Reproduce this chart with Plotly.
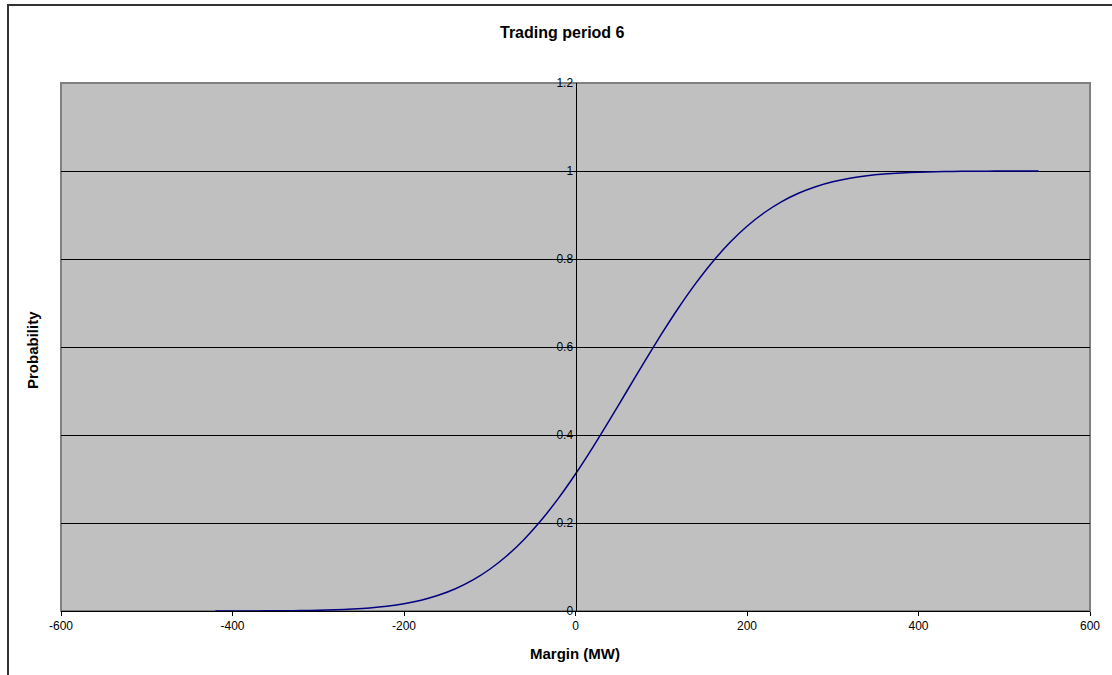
import plotly.graph_objects as go

# Data
margin_mw = [-420, -400, -380, -360, -340, -320, -300, -280, -260, -240, -220, -200,
             -180, -160, -140, -120, -100, -80, -60, -40, -20, 0, 20, 40, 60, 80,
             100, 120, 140, 160, 180, 200, 220, 240, 260, 280, 300, 320, 340, 360,
             380, 400, 420, 440, 460, 480, 500, 520, 540]
probability = [0.0000, 0.0001, 0.0002, 0.0003, 0.0005, 0.0009, 0.0016, 0.0027, 0.0044,
               0.0070, 0.0109, 0.0165, 0.0246, 0.0357, 0.0506, 0.0701, 0.0949, 0.1255,
               0.1626, 0.2062, 0.2560, 0.3114, 0.3715, 0.4349, 0.5000, 0.5651, 0.6285,
               0.6886, 0.7440, 0.7938, 0.8374, 0.8745, 0.9051, 0.9299, 0.9494, 0.9643,
               0.9754, 0.9835, 0.9891, 0.9930, 0.9956, 0.9973, 0.9984, 0.9991, 0.9995,
               0.9997, 0.9998, 0.9999, 1.0000]

x_ticks = [-600, -400, -200, 0, 200, 400, 600]
x_tick_labels = ["-600", "-400", "-200", "0", "200", "400", "600"]
y_ticks = [0, 0.2, 0.4, 0.6, 0.8, 1, 1.2]
y_tick_labels = ["0", "0.2", "0.4", "0.6", "0.8", "1", "1.2"]

title_text = "Trading period 6"
x_title = "Margin (MW)"
y_title = "Probability"

FONT = "Liberation Sans, Arial, sans-serif"

fig = go.Figure()
fig.add_trace(go.Scatter(
    x=margin_mw, y=probability, mode="lines",
    line=dict(color="#000080", width=1.5, shape="spline", smoothing=0.6),
    showlegend=False, hoverinfo="x+y",
))

W, H = 1112, 675
L, R, T, B = 61, 1090, 83, 611

fig.update_layout(
    width=W, height=H,
    margin=dict(l=L, r=W - R, t=T, b=H - B, pad=0),
    paper_bgcolor="white",
    plot_bgcolor="#C0C0C0",
    font=dict(family=FONT, size=12, color="black"),
    showlegend=False,
    xaxis=dict(
        range=[-600, 600], tickvals=x_ticks, ticktext=x_tick_labels,
        showgrid=False, zeroline=False,
        showline=True, linecolor="black", linewidth=1,
        ticks="outside", ticklen=4, tickcolor="black", tickwidth=1,
        tickfont=dict(family=FONT, size=12, color="black"),
        fixedrange=True,
    ),
    yaxis=dict(
        range=[0, 1.2], tickvals=y_ticks, ticktext=y_tick_labels,
        anchor="free", position=0.5, side="left",
        showgrid=True, gridcolor="black", gridwidth=1,
        zeroline=False,
        showline=True, linecolor="black", linewidth=1,
        ticks="inside", ticklen=4, tickcolor="black", tickwidth=1,
        tickfont=dict(family=FONT, size=12, color="black"),
        fixedrange=True,
    ),
    shapes=[
        # plot area border (gray)
        dict(type="rect", xref="paper", yref="paper", x0=0, x1=1, y0=0, y1=1,
             line=dict(color="#808080", width=2), layer="below"),
        # outer chart frame
        dict(type="rect", xref="paper", yref="paper",
             x0=(8 - L) / (R - L), x1=(1125 - L) / (R - L),
             y0=(B - 700) / (B - T), y1=(B - 5) / (B - T),
             line=dict(color="#333333", width=2), fillcolor="rgba(0,0,0,0)"),
    ],
    annotations=[
        dict(text="<b>" + title_text + "</b>", xref="paper", yref="paper",
             x=(562 - L) / (R - L), y=(B - 33) / (B - T),
             showarrow=False, font=dict(family=FONT, size=16, color="black"),
             xanchor="center", yanchor="middle"),
        dict(text="<b>" + x_title + "</b>", xref="paper", yref="paper",
             x=(575 - L) / (R - L), y=(B - 653) / (B - T),
             showarrow=False, font=dict(family=FONT, size=15, color="black"),
             xanchor="center", yanchor="middle"),
        dict(text="<b>" + y_title + "</b>", xref="paper", yref="paper",
             x=(33 - L) / (R - L), y=(B - 350) / (B - T),
             showarrow=False, textangle=-90, font=dict(family=FONT, size=15, color="black"),
             xanchor="center", yanchor="middle"),
    ],
)

fig.write_html("out.html",
               config={"displayModeBar": False},
               post_script="document.body.style.margin='0';document.body.style.overflow='hidden';")
